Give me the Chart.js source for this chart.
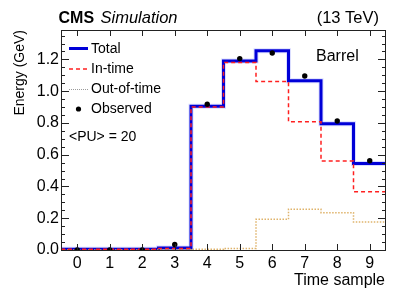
<!DOCTYPE html>
<html>
<head>
<meta charset="utf-8">
<script src="https://cdn.jsdelivr.net/npm/chart.js@4/dist/chart.umd.min.js"></script>
<style>
  html, body { margin: 0; padding: 0; background: #fff; }
  #wrap { width: 407px; height: 297px; }
</style>
</head>
<body>
<div id="wrap"><canvas id="pulse-chart" width="407" height="297"></canvas></div>
<script>
// time samples (bin centres) and bin contents
const samples = [0, 1, 2, 3, 4, 5, 6, 7, 8, 9];
const totalEnergy = [0.005, 0.005, 0.005, 0.012, 0.905, 1.19, 1.255, 1.065, 0.795, 0.545];
const inTimeEnergy = [0.004, 0.004, 0.004, 0.010, 0.900, 1.18, 1.060, 0.807, 0.560, 0.367];
const outOfTimeEnergy = [0.001, 0.001, 0.001, 0.002, 0.004, 0.010, 0.193, 0.256, 0.235, 0.176];
const observedEnergy = [0.0, 0.0, 0.0, 0.035, 0.918, 1.205, 1.240, 1.095, 0.812, 0.562];
const xTicks = [0, 1, 2, 3, 4, 5, 6, 7, 8, 9];
const yTicks = [0, 0.2, 0.4, 0.6, 0.8, 1.0, 1.2];

const FONT = "'Liberation Sans', Arial, sans-serif";

// histogram -> stepped points at bin edges
let histPoints = function(values){
    let pts = values.map((v, i) => ({x: samples[i] - 0.5, y: v}));
    pts.push({x: samples[samples.length - 1] + 0.5, y: values[values.length - 1]});
    return pts;
}

// frame, inward ticks and all the ROOT style labels
const decorations = {
    id: 'decorations',
    afterDraw(chart){
        const ctx = chart.ctx;
        const a = chart.chartArea;
        const xs = chart.scales.x, ys = chart.scales.y;
        ctx.save();
        ctx.strokeStyle = '#222';
        ctx.lineWidth = 1;
        ctx.strokeRect(a.left + 0.5, a.top + 0.5, a.right - a.left - 1, a.bottom - a.top);

        ctx.beginPath();
        xTicks.forEach(t => {
            let px = Math.round(xs.getPixelForValue(t)) + 0.5;
            ctx.moveTo(px, a.bottom); ctx.lineTo(px, a.bottom - 6);
            ctx.moveTo(px, a.top); ctx.lineTo(px, a.top + 6);
        });
        for(let v = 0; v <= ys.max + 1e-9; v += 0.05){
            let major = Math.abs(v / 0.2 - Math.round(v / 0.2)) < 1e-6;
            let len = major ? 8 : 4;
            let py = Math.round(ys.getPixelForValue(v)) + 0.5;
            ctx.moveTo(a.left, py); ctx.lineTo(a.left + len, py);
            ctx.moveTo(a.right, py); ctx.lineTo(a.right - len, py);
        }
        ctx.stroke();

        ctx.fillStyle = '#000';
        ctx.textBaseline = 'alphabetic';
        // header
        ctx.font = 'bold 16px ' + FONT;
        ctx.textAlign = 'left';
        ctx.fillText('CMS', 58.5, 22.5);
        ctx.font = 'italic 16.5px ' + FONT;
        ctx.fillText('Simulation', 100.5, 22.5);
        ctx.font = '16.5px ' + FONT;
        ctx.textAlign = 'right';
        ctx.fillText('(13 TeV)', 379, 22.5);

        // axis titles
        ctx.font = '16px ' + FONT;
        ctx.fillText('Time sample', 385, 285);
        ctx.save();
        ctx.translate(23.5, 30);
        ctx.rotate(-Math.PI / 2);
        ctx.textAlign = 'right';
        ctx.font = '14px ' + FONT;
        ctx.fillText('Energy (GeV)', 0, 0);
        ctx.restore();

        ctx.textAlign = 'left';
        ctx.textBaseline = 'middle';
        ctx.font = '16px ' + FONT;
        ctx.fillText('Barrel', 316, 57);

        // legend
        ctx.font = '14px ' + FONT;
        ctx.fillText('Total', 91, 49);
        ctx.fillText('In-time', 91, 69);
        ctx.fillText('Out-of-time', 91, 89);
        ctx.fillText('Observed', 91, 109);
        ctx.fillText('<PU> = 20', 69, 137);

        ctx.lineWidth = 3;
        ctx.strokeStyle = '#0000d8';
        ctx.beginPath(); ctx.moveTo(69, 48.5); ctx.lineTo(88, 48.5); ctx.stroke();
        ctx.lineWidth = 1.5;
        ctx.strokeStyle = '#ff2020';
        ctx.setLineDash([4, 3]);
        ctx.beginPath(); ctx.moveTo(69, 69); ctx.lineTo(88, 69); ctx.stroke();
        ctx.lineWidth = 1;
        ctx.strokeStyle = '#9a9a9a';
        ctx.setLineDash([1, 1]);
        ctx.beginPath(); ctx.moveTo(69, 89.5); ctx.lineTo(88, 89.5); ctx.stroke();
        ctx.setLineDash([]);
        ctx.fillStyle = '#000';
        ctx.beginPath(); ctx.arc(78.5, 109, 2.6, 0, Math.PI * 2); ctx.fill();
        ctx.restore();
    }
};

let config = {
    type: 'line',
    data: {
        datasets: [
        {
            label: 'Observed',
            type: 'scatter',
            data: samples.map((s, i) => ({x: s, y: observedEnergy[i]})),
            pointRadius: 2.7,
            pointBackgroundColor: '#000',
            pointBorderWidth: 0,
            showLine: false,
            order: 0
        },
        {
            label: 'In-time',
            data: histPoints(inTimeEnergy),
            stepped: true,
            borderColor: '#ff2020',
            borderWidth: 1.5,
            borderDash: [4, 3],
            pointRadius: 0,
            fill: false,
            order: 1
        },
        {
            label: 'Out-of-time',
            data: histPoints(outOfTimeEnergy),
            stepped: true,
            borderColor: 'rgba(215,160,70,0.8)',
            borderWidth: 1.5,
            borderDash: [1.5, 1.5],
            pointRadius: 0,
            fill: false,
            order: 2
        },
        {
            label: 'Total',
            data: histPoints(totalEnergy),
            stepped: true,
            borderColor: '#0000d8',
            borderWidth: 3,
            pointRadius: 0,
            fill: false,
            order: 3
        },
        {
            label: 'Total band',
            data: histPoints(totalEnergy),
            stepped: true,
            borderColor: 'rgba(110,125,255,0.25)',
            borderWidth: 5,
            pointRadius: 0,
            fill: false,
            order: 4
        }]
    },
    options: {
        responsive: false,
        animation: false,
        events: [],
        layout: { padding: { left: 0, right: 21, top: 30, bottom: 0 } },
        plugins: { legend: { display: false }, tooltip: { enabled: false } },
        scales: {
            x: {
                type: 'linear',
                min: -0.5,
                max: 9.5,
                afterBuildTicks: s => { s.ticks = xTicks.map(v => ({value: v})); },
                afterFit: s => { s.height = 47; },
                grid: { display: false, drawTicks: false },
                border: { display: false },
                ticks: { padding: 4, color: '#000', font: { family: FONT, size: 16 }, maxRotation: 0 }
            },
            y: {
                type: 'linear',
                min: 0,
                max: 1.385,
                afterBuildTicks: s => { s.ticks = yTicks.map(v => ({value: v})); },
                afterFit: s => { s.width = 61; },
                grid: { display: false, drawTicks: false },
                border: { display: false },
                ticks: { padding: 2, color: '#000', font: { family: FONT, size: 16 },
                    callback: v => v.toFixed(1) }
            }
        }
    },
    plugins: [decorations]
};

new Chart(document.querySelector('#pulse-chart'), config);
</script>
</body>
</html>
